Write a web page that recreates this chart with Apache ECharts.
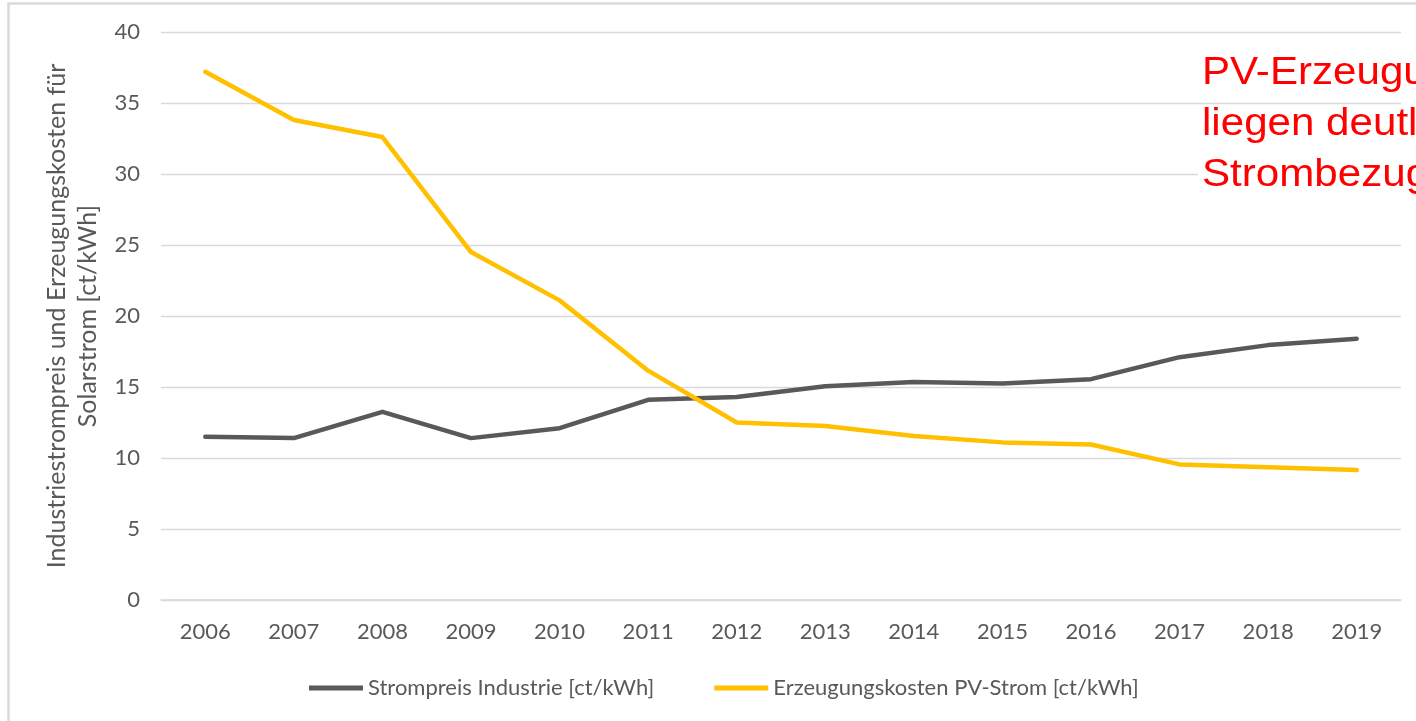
<!DOCTYPE html>
<html>
<head>
<meta charset="utf-8">
<script src="https://cdn.jsdelivr.net/npm/echarts@6/dist/echarts.min.js"></script>
<style>
  html, body { margin: 0; padding: 0; background: #fff; }
  #chart { width: 1416px; height: 721px; }
</style>
</head>
<body>
<div id="chart"></div>
<script>
// Jahre (Kategorien)
const years = ['2006', '2007', '2008', '2009', '2010', '2011', '2012',
  '2013', '2014', '2015', '2016', '2017', '2018', '2019']

// Strompreis Industrie [ct/kWh]
const strompreis = [11.5, 11.4, 13.25, 11.4, 12.1, 14.1, 14.3,
  15.05, 15.35, 15.25, 15.55, 17.1, 17.95, 18.4]

// Erzeugungskosten PV-Strom [ct/kWh]
const pvKosten = [37.2, 33.8, 32.6, 24.5, 21.1, 16.15, 12.5,
  12.25, 11.55, 11.1, 10.95, 9.55, 9.35, 9.15]

const seriesNames = ['Strompreis Industrie [ct/kWh]', 'Erzeugungskosten PV-Strom [ct/kWh]']
const yName = 'Industriestrompreis und Erzeugungskosten für\nSolarstrom [ct/kWh]'
const note = 'PV-Erzeugungskosten\nliegen deutlich unter den\nStrombezugskosten'

const FONT = 'Lato'
const GREY = '#595959'

const chart = echarts.init(document.getElementById('chart'))

chart.setOption({
  animation: false,
  grid: { left: 161, right: 15, top: 32, bottom: 121 },
  legend: {
    left: 304,
    top: 672,
    itemWidth: 54,
    itemHeight: 5,
    itemGap: 60,
    icon: 'rect',
    textStyle: { fontFamily: FONT, fontSize: 22, color: GREY },
    data: seriesNames,
  },
  xAxis: {
    type: 'category',
    data: years,
    boundaryGap: true,
    axisLine: { show: true, lineStyle: { color: '#D9D9D9', width: 1.5 } },
    axisTick: { show: false },
    axisLabel: { fontFamily: FONT, fontSize: 22, color: GREY, margin: 21 },
  },
  yAxis: {
    type: 'value',
    min: 0,
    max: 40,
    interval: 5,
    name: yName,
    nameLocation: 'middle',
    nameRotate: 90,
    nameGap: 55,
    nameTextStyle: { fontFamily: FONT, fontSize: 25, color: GREY, lineHeight: 31 },
    axisLine: { show: false },
    axisTick: { show: false },
    axisLabel: { fontFamily: FONT, fontSize: 22, color: GREY, margin: 21 },
    splitLine: { lineStyle: { color: '#D9D9D9', width: 1.3 } },
  },
  series: [
    {
      name: seriesNames[0],
      type: 'line',
      data: strompreis,
      symbol: 'none',
      color: GREY,
      lineStyle: { width: 4.5, color: GREY, cap: 'round', join: 'round' },
    },
    {
      name: seriesNames[1],
      type: 'line',
      data: pvKosten,
      symbol: 'none',
      color: '#FFC000',
      lineStyle: { width: 4.5, color: '#FFC000', cap: 'round', join: 'round' },
    },
  ],
  graphic: [
    {
      type: 'rect',
      shape: { x: 8.5, y: 3.5, width: 1440, height: 760 },
      style: { fill: 'none', stroke: '#D9D9D9', lineWidth: 2.5 },
      silent: true,
      z: -1,
    },
    {
      // weisser Hintergrund des Textfelds (verdeckt die 30er-Linie)
      type: 'rect',
      shape: { x: 1198, y: 150, width: 230, height: 45 },
      style: { fill: '#fff' },
      silent: true,
      z: 10,
    },
    {
      type: 'text',
      x: 1202,
      y: 48,
      scaleX: 1.08,
      z: 11,
      style: {
        text: note,
        fill: '#FF0000',
        fontFamily: 'Liberation Sans',
        fontSize: 39,
        lineHeight: 51,
      },
    },
  ],
})
</script>
</body>
</html>
